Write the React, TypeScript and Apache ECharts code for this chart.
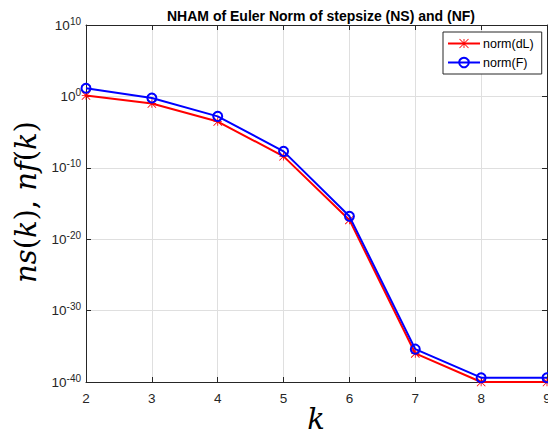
import React, { useEffect, useRef } from "react";
import * as echarts from "echarts";

const kValues = [2, 3, 4, 5, 6, 7, 8, 9];
const normDL = [1.3, 0.1, 3e-4, 4e-9, 5e-18, 1e-36, 1e-40, 1e-40];
const normF = [14, 0.6, 1.6e-3, 2e-8, 1.6e-17, 4e-36, 4e-40, 4e-40];
const seriesNames = ["norm(dL)", "norm(F)"];
const yExpMin = -40;
const yExpMax = 10;
const yExpStep = 10;
const titleText = "NHAM of Euler Norm of stepsize (NS) and (NF)";

const ASTERISK =
  "path://M0 9 L20 9 L20 11 L0 11 Z M9 0 L11 0 L11 20 L9 20 Z " +
  "M0.7 -0.7 L20.7 19.3 L19.3 20.7 L-0.7 0.7 Z M19.3 -0.7 L20.7 0.7 L0.7 20.7 L-0.7 19.3 Z";

const FONT = "'Liberation Sans', Arial, Helvetica, sans-serif";
const AXC = "#262626";
const GRIDC = "#dfdfdf";

export default function App() {
  const ref = useRef<HTMLDivElement>(null);
  useEffect(() => {
    document.body.style.margin = "0";
    const chart = echarts.init(ref.current!, undefined, { renderer: "svg" });
    // log10 axis: values are plotted by their decimal exponent
    const supLabel = (e: number) => `{b|10}{s|${Math.round(e)}}`;
    const richY = {
      b: { fontSize: 13.5, color: AXC, fontFamily: FONT },
      s: { fontSize: 10, color: AXC, fontFamily: FONT, padding: [0, 0, 8, 0] },
    };
    const italic = { fontFamily: "'DejaVu Serif', serif", fontStyle: "italic", fontSize: 29, fill: "#000" };
    const upright = { fontFamily: "'DejaVu Serif', serif", fontSize: 29, fill: "#000" };
    const yBase = {
      type: "value",
      min: yExpMin,
      max: yExpMax,
      interval: yExpStep,
    };
    const xBase = { type: "value", min: 2, max: 9, interval: 1 };
    chart.setOption({
      animation: false,
      backgroundColor: "#fff",
      title: {
        text: titleText,
        left: 316,
        textAlign: "center",
        top: 4,
        textStyle: { fontFamily: FONT, fontSize: 14, fontWeight: "bold", color: "#000" },
      },
      grid: { left: 86, right: 1, top: 25, bottom: 55, containLabel: false, outerBoundsMode: "none" },
      legend: {
        orient: "vertical",
        left: 443,
        top: 32,
        padding: [5, 8, 5, 4],
        itemWidth: 32,
        itemHeight: 12,
        itemGap: 6,
        backgroundColor: "#fff",
        borderColor: AXC,
        borderWidth: 1,
        borderRadius: 0,
        textStyle: { fontFamily: FONT, fontSize: 12.5, color: "#000", padding: [0, 0, 0, -2] },
        data: seriesNames,
      },
      xAxis: [
        {
          ...xBase,
          position: "bottom",
          axisLine: { onZero: false, lineStyle: { color: AXC, width: 1 } },
          axisTick: { inside: true, length: 5, lineStyle: { color: AXC } },
          axisLabel: { color: AXC, fontFamily: FONT, fontSize: 13.5, margin: 9 },
          splitLine: { show: true, lineStyle: { color: GRIDC, width: 1 } },
        },
        {
          ...xBase,
          position: "top",
          axisLine: { onZero: false, lineStyle: { color: AXC, width: 1 } },
          axisTick: { inside: true, length: 5, lineStyle: { color: AXC } },
          axisLabel: { show: false },
          splitLine: { show: false },
        },
      ],
      yAxis: [
        {
          ...yBase,
          position: "left",
          axisLine: { show: true, onZero: false, lineStyle: { color: AXC, width: 1 } },
          axisTick: { show: true, inside: true, length: 5, lineStyle: { color: AXC } },
          axisLabel: { formatter: supLabel, rich: richY, margin: 5 },
          splitLine: { show: true, lineStyle: { color: GRIDC, width: 1 } },
        },
        {
          ...yBase,
          position: "right",
          axisLine: { show: true, onZero: false, lineStyle: { color: AXC, width: 1 } },
          axisTick: { show: true, inside: true, length: 5, lineStyle: { color: AXC } },
          axisLabel: { show: false },
          splitLine: { show: false },
        },
      ],
      series: [
        {
          name: seriesNames[0],
          type: "line",
          data: kValues.map((k, i) => [k, Math.log10(normDL[i])]),
          symbol: ASTERISK,
          symbolSize: 9,
          showAllSymbol: true,
          clip: false,
          lineStyle: { color: "#ff0000", width: 2 },
          itemStyle: { color: "#ff0000" },
          z: 3,
        },
        {
          name: seriesNames[1],
          type: "line",
          data: kValues.map((k, i) => [k, Math.log10(normF[i])]),
          symbol: "circle",
          symbolSize: 9,
          showAllSymbol: true,
          clip: false,
          lineStyle: { color: "#0000ff", width: 2 },
          itemStyle: { color: "rgba(255,255,255,0)", borderColor: "#0000ff", borderWidth: 2 },
          z: 4,
        },
      ],
      graphic: [
        {
          type: "text",
          x: 26,
          y: 202,
          rotation: Math.PI / 2,
          style: {
            text: "{i|ns}{r|(}{i|k}{r|), }{i|nf}{r|(}{i|k}{r|)}",
            rich: { i: italic, r: upright },
            align: "center",
            verticalAlign: "middle",
          },
        },
        {
          type: "text",
          x: 316,
          y: 419,
          style: {
            text: "k",
            ...italic,
            align: "center",
            verticalAlign: "middle",
          },
        },
      ],
    });
    return () => chart.dispose();
  }, []);
  return (
    <div
      ref={ref}
      style={{ position: "absolute", left: 0, top: 0, width: 548, height: 437 }}
    />
  );
}
